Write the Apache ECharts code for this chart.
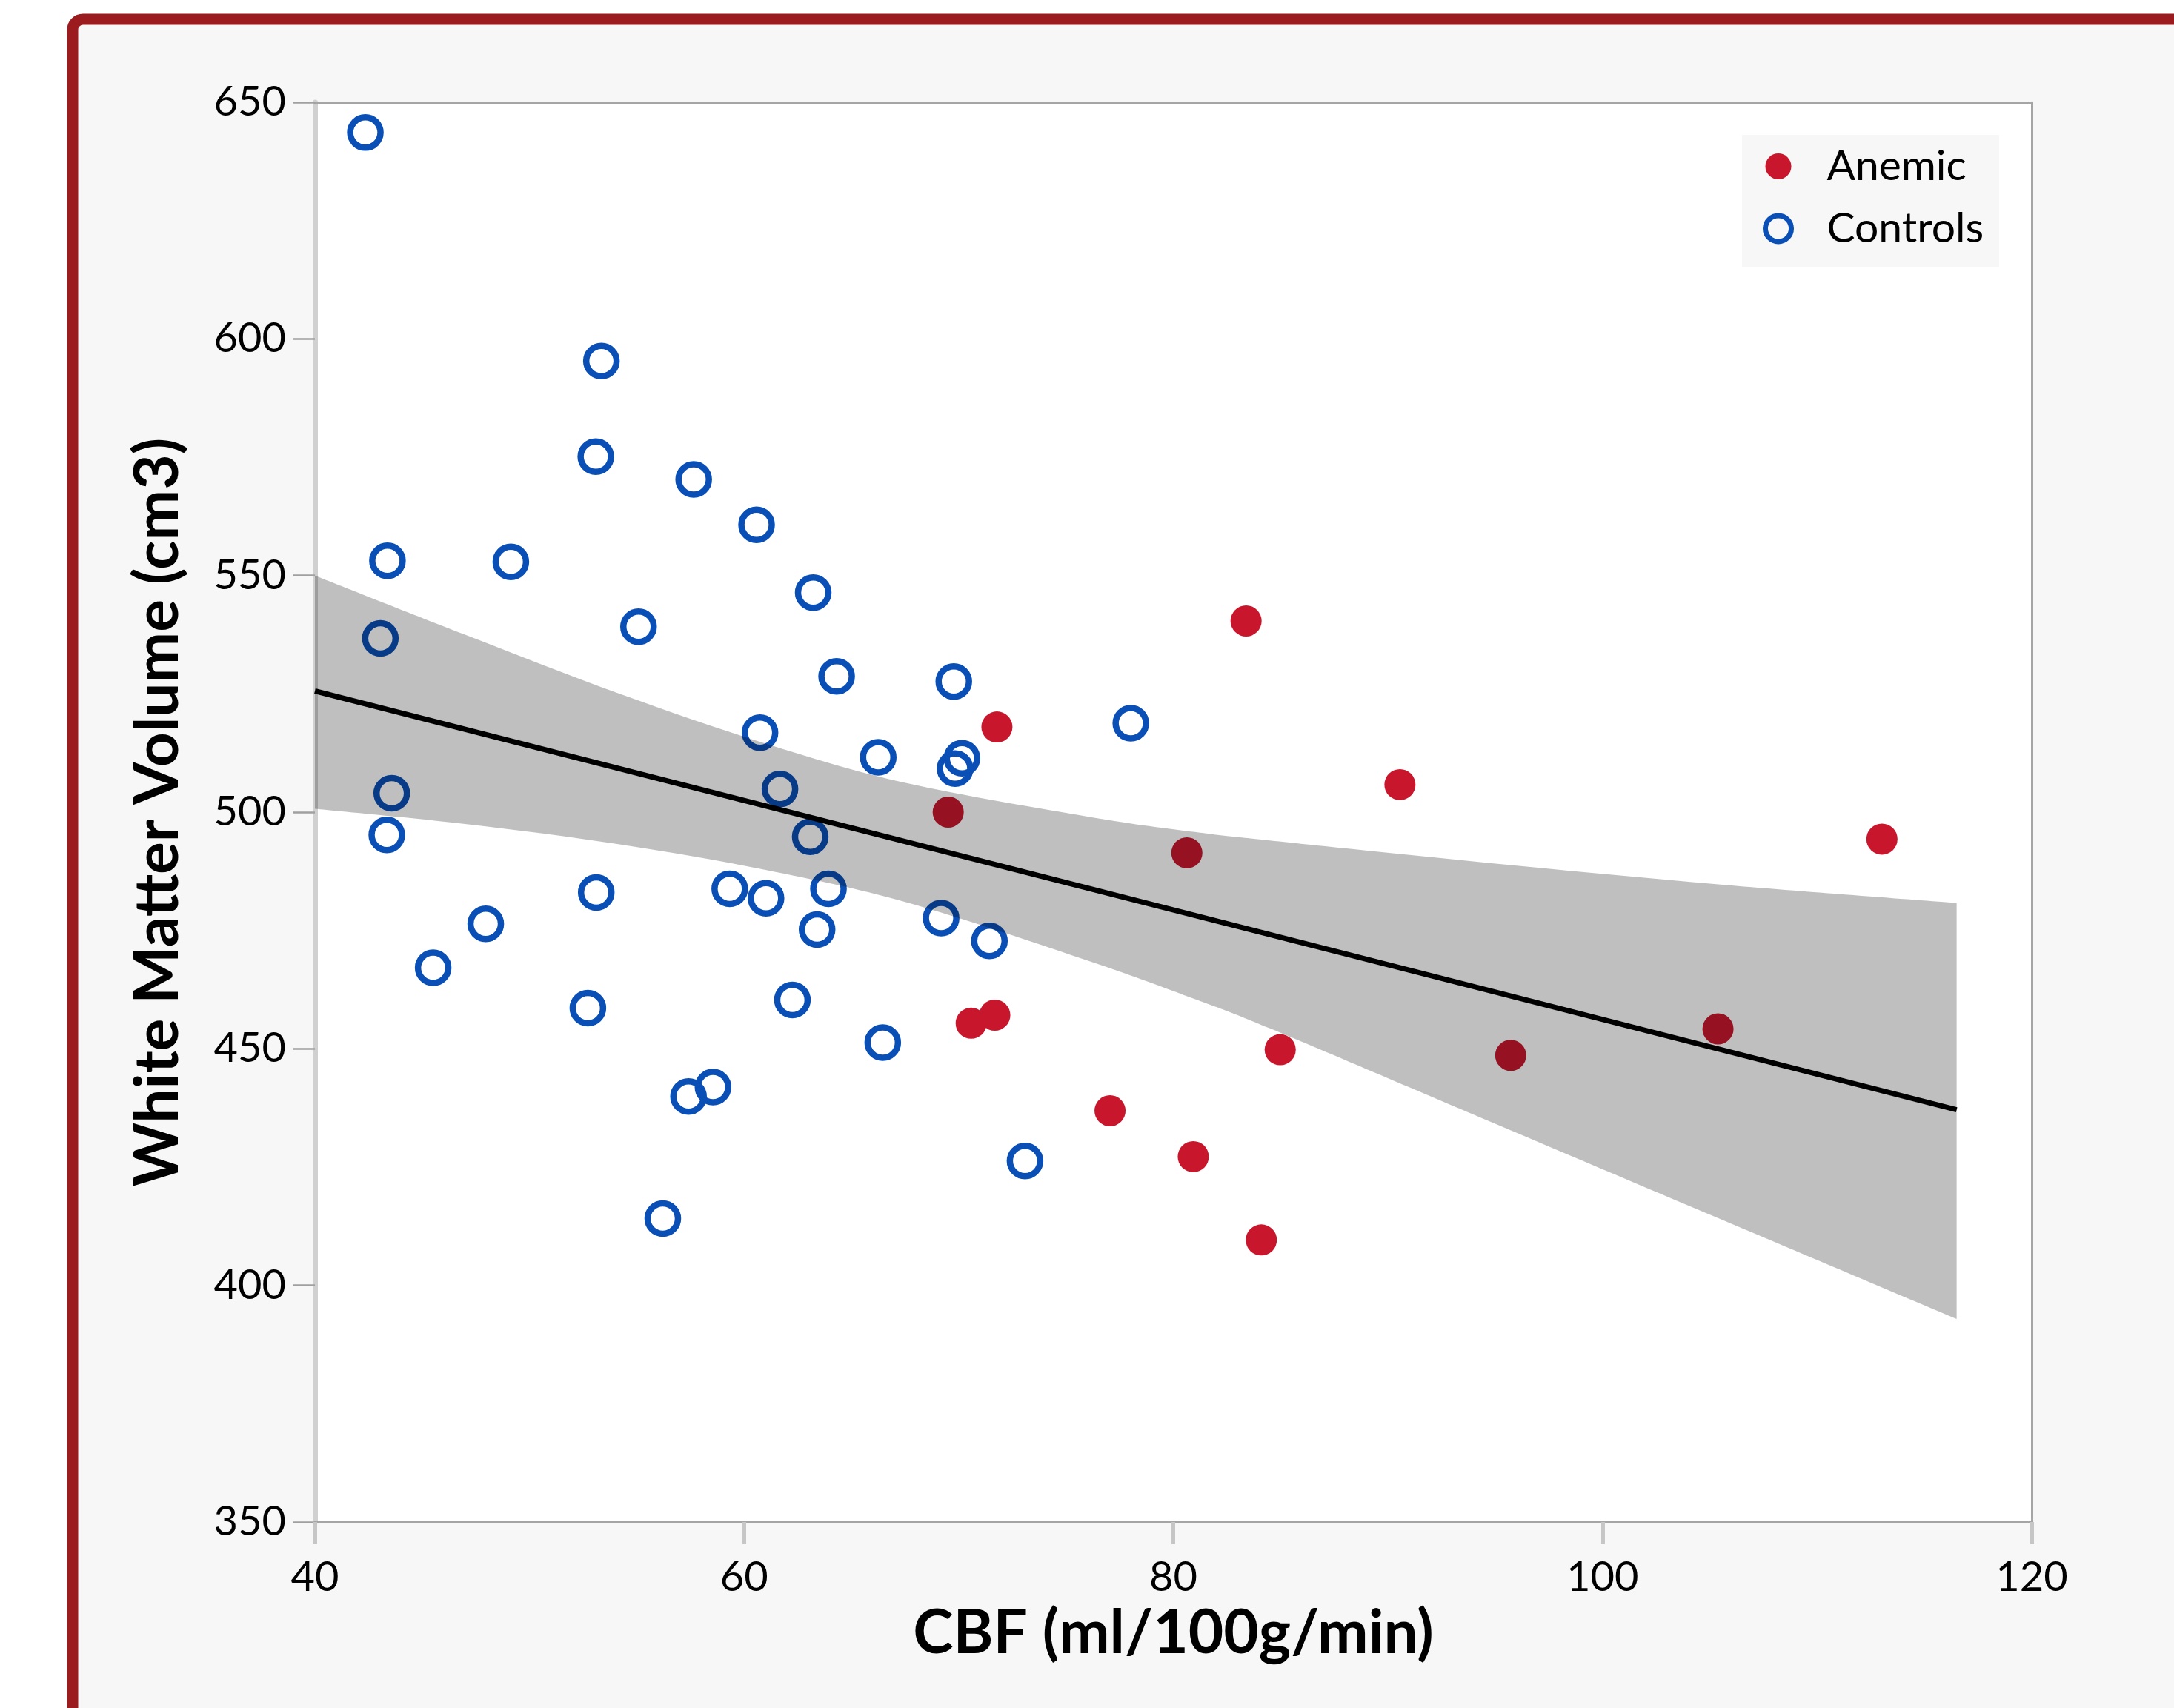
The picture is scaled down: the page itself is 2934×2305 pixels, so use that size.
<!DOCTYPE html>
<html>
<head>
<meta charset="utf-8">
<script src="https://cdn.jsdelivr.net/npm/echarts@6/dist/echarts.min.js"></script>
<style>
html,body{margin:0;padding:0;background:#fff;}
#chart{width:2934px;height:2305px;}
</style>
</head>
<body>
<div id="chart"></div>
<script>
// ---- data ----
var anemicX = [83.39, 71.78, 90.56, 69.51, 80.63, 113.02, 70.58, 71.68, 84.98, 95.72, 105.38, 77.05, 80.93, 84.10];
var anemicY = [540.4, 518.0, 505.8, 500.0, 491.4, 494.3, 455.4, 457.1, 449.8, 448.6, 454.2, 436.9, 427.2, 409.6];

var controlsX = [42.35, 53.35, 53.09, 57.65, 60.58, 43.38, 49.13, 63.22, 55.08, 43.05, 64.31,
  60.74, 66.25, 43.58, 61.67, 43.35, 63.08, 53.11, 59.33, 61.02, 63.93, 47.96, 63.40, 45.51,
  52.72, 62.25, 66.46, 58.55, 57.41, 56.21,
  69.77, 78.02, 70.15, 69.83, 69.18, 71.43, 73.09];
var controlsY = [643.6, 595.3, 575.1, 570.3, 560.7, 553.1, 552.9, 546.4, 539.2, 536.7, 528.7,
  516.8, 511.6, 504.0, 504.9, 495.2, 494.8, 483.0, 483.8, 481.8, 483.8, 476.4, 475.2, 467.1,
  458.6, 460.3, 451.3, 441.9, 439.9, 414.1,
  527.6, 518.8, 511.4, 509.2, 477.6, 472.8, 426.3];

// fitted line end points
var fitX = [40, 116.5];
var fitY = [525.6, 437.1];

// confidence band edges
var bandX     = [40,    47,    54.2,  61,    67.6,  76.1,  81,    84.5,  94.4,  105.5, 116.5];
var bandUpper = [550.0, 537.5, 525.0, 514.5, 506.1, 499.0, 495.8, 494.0, 489.4, 484.7, 480.8];
var bandLower = [500.7, 497.5, 493.2, 487.8, 480.9, 468.5, 460.5, 454.3, 435.3, 414.0, 392.9];

var xTicks = {min: 40, max: 120, interval: 20};
var yTicks = {min: 350, max: 650, interval: 50};

var seriesNames = ['Anemic', 'Controls'];
var xTitle = 'CBF (ml/100g/min)';
var yTitle = 'White Matter Volume (cm3)';

// ---- build ----
function zip(a, b) { var r = []; for (var i = 0; i < a.length; i++) r.push([a[i], b[i]]); return r; }

// smooth (Catmull-Rom) path through pixel points, continuing an existing path
function curveThrough(pts) {
  var d = '';
  for (var i = 0; i < pts.length - 1; i++) {
    var p0 = pts[Math.max(i - 1, 0)], p1 = pts[i], p2 = pts[i + 1], p3 = pts[Math.min(i + 2, pts.length - 1)];
    var c1x = p1[0] + (p2[0] - p0[0]) / 6, c1y = p1[1] + (p2[1] - p0[1]) / 6;
    var c2x = p2[0] - (p3[0] - p1[0]) / 6, c2y = p2[1] - (p3[1] - p1[1]) / 6;
    d += ' C' + c1x + ' ' + c1y + ' ' + c2x + ' ' + c2y + ' ' + p2[0] + ' ' + p2[1];
  }
  return d;
}

var RED = '#c8172c', BLUE = '#0a4fb5';
var FONT = 'Lato';

var chart = echarts.init(document.getElementById('chart'), null, {renderer: 'canvas'});
chart.setOption({
  backgroundColor: '#ffffff',
  animation: false,
  graphic: [{
    type: 'rect', z: -100, silent: true,
    shape: {x: 98, y: 26, width: 3200, height: 2600, r: 14},
    style: {fill: '#f7f7f7', stroke: '#9b1b1f', lineWidth: 15}
  }],
  grid: {left: 425, right: 192, top: 138, bottom: 251, show: true, backgroundColor: '#ffffff', borderWidth: 0, outerBoundsMode: 'none'},
  xAxis: [{
    type: 'value', min: xTicks.min, max: xTicks.max, interval: xTicks.interval,
    position: 'bottom',
    splitLine: {show: false},
    axisLine: {show: true, lineStyle: {color: '#a5a5a5', width: 3}},
    axisTick: {show: true, length: 30, lineStyle: {color: '#c6c6c6', width: 5}},
    axisLabel: {margin: 47, fontSize: 56, fontFamily: FONT, color: '#000'},
    name: xTitle, nameLocation: 'middle', nameGap: 110,
    nameTextStyle: {fontSize: 82, fontWeight: 'bold', fontFamily: FONT, color: '#000'}
  }, {
    type: 'value', min: xTicks.min, max: xTicks.max, position: 'top',
    splitLine: {show: false}, axisTick: {show: false}, axisLabel: {show: false},
    axisLine: {show: true, lineStyle: {color: '#a5a5a5', width: 3}}
  }],
  yAxis: [{
    type: 'value', min: yTicks.min, max: yTicks.max, interval: yTicks.interval,
    position: 'left',
    splitLine: {show: false},
    axisLine: {show: true, lineStyle: {color: '#d0d0d0', width: 7}},
    axisTick: {show: true, length: 29, lineStyle: {color: '#a0a0a0', width: 2.5}},
    axisLabel: {margin: 39, fontSize: 56, fontFamily: FONT, color: '#000'},
    name: yTitle, nameLocation: 'middle', nameGap: 170, nameRotate: 90,
    nameTextStyle: {fontSize: 82, fontWeight: 'bold', fontFamily: FONT, color: '#000'}
  }, {
    type: 'value', min: yTicks.min, max: yTicks.max, position: 'right',
    splitLine: {show: false}, axisTick: {show: false}, axisLabel: {show: false},
    axisLine: {show: true, lineStyle: {color: '#a5a5a5', width: 3}}
  }],
  legend: {
    orient: 'vertical', left: 2351, top: 182,
    padding: [14, 21, 23, 28],
    backgroundColor: '#f7f7f7',
    itemWidth: 35, itemHeight: 35, itemGap: 27,
    textStyle: {fontSize: 57, fontFamily: FONT, color: '#000', padding: [0, 0, 0, 43]},
    data: [
      {name: seriesNames[0], icon: 'circle', itemStyle: {color: RED, borderWidth: 0}},
      {name: seriesNames[1], icon: 'circle', itemStyle: {color: 'rgba(0,0,0,0)', borderColor: BLUE, borderWidth: 7}}
    ]
  },
  series: [{
    name: seriesNames[1], type: 'scatter', z: 2,
    symbol: 'circle', symbolSize: 41,
    itemStyle: {color: 'rgba(0,0,0,0)', borderColor: BLUE, borderWidth: 8.5, opacity: 1},
    emphasis: {disabled: true},
    data: zip(controlsX, controlsY)
  }, {
    name: seriesNames[0], type: 'scatter', z: 2,
    symbol: 'circle', symbolSize: 42,
    itemStyle: {color: RED, opacity: 1},
    emphasis: {disabled: true},
    data: zip(anemicX, anemicY)
  }, {
    name: 'band', type: 'custom', z: 3, silent: true,
    renderItem: function (params, api) {
      if (params.dataIndex !== 0) return null;
      var up = [], lo = [], i;
      for (i = 0; i < bandX.length; i++) {
        up.push(api.coord([bandX[i], bandUpper[i]]));
        lo.push(api.coord([bandX[i], bandLower[i]]));
      }
      lo.reverse();
      var d = 'M' + up[0][0] + ' ' + up[0][1] + curveThrough(up) +
              ' L' + lo[0][0] + ' ' + lo[0][1] + curveThrough(lo) + ' Z';
      return {type: 'path', shape: {pathData: d}, style: {fill: 'rgba(0,0,0,0.25)', stroke: null}};
    },
    data: [[bandX[0], bandUpper[0]]]
  }, {
    name: 'fit', type: 'line', z: 4, silent: true,
    symbol: 'none',
    lineStyle: {color: '#000', width: 7},
    emphasis: {disabled: true},
    data: zip(fitX, fitY)
  }]
});
</script>
</body>
</html>
